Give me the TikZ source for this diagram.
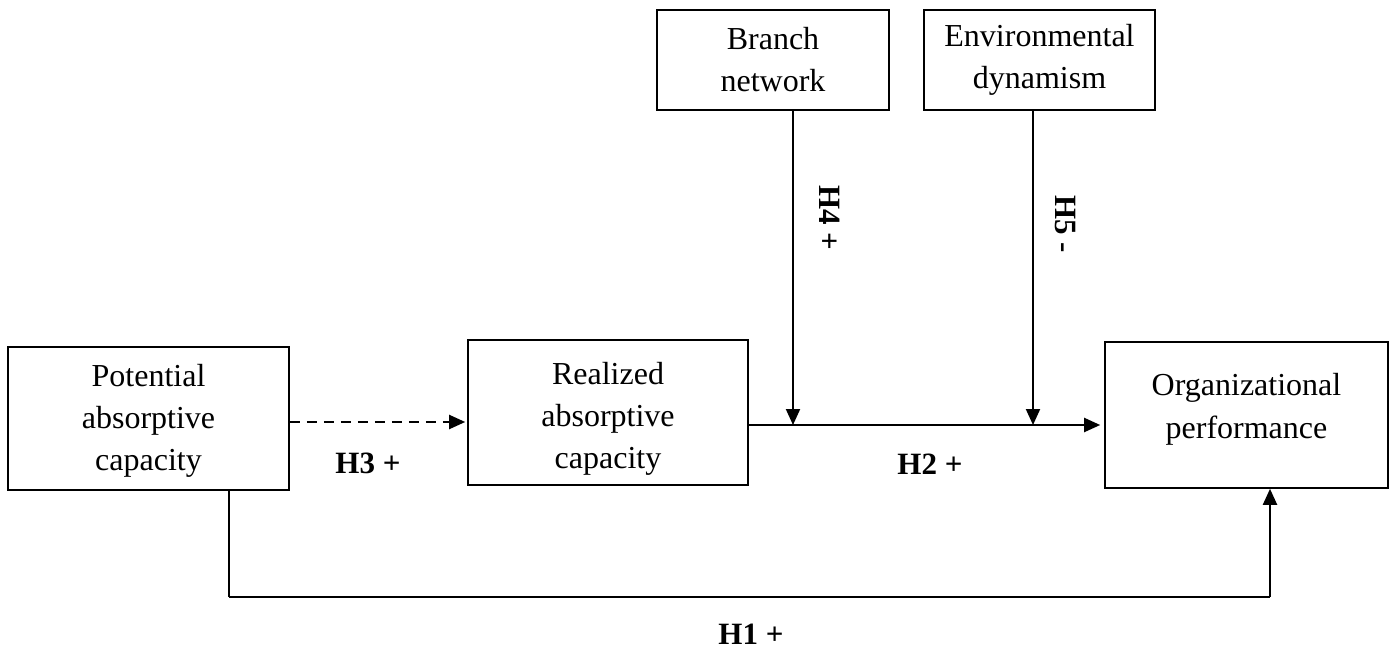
\documentclass[tikz,border=0pt]{standalone}
\usepackage{fontspec}
\setmainfont{Liberation Serif}
\usetikzlibrary{arrows.meta}
\begin{document}
\begin{tikzpicture}[x=1pt,y=-1pt,
  box/.style={draw,line width=1.6pt,inner sep=0pt},
  boxtext/.style={align=center,inner sep=0pt,font=\fontsize{32}{42}\selectfont},
  conn/.style={line width=2pt,-{Triangle[length=16pt,width=14pt]}},
  hlab/.style={font=\fontsize{31}{34}\selectfont\bfseries,inner sep=0pt}]
\useasboundingbox (0,0) rectangle (1395,655);
\node[box,minimum width=281pt,minimum height=143pt] (pot) at (148.5,418.5) {};
\node[boxtext] (pott) at ([yshift=-2pt]pot.center) {Potential\\absorptive\\capacity};
\node[box,minimum width=280pt,minimum height=145pt] (real) at (608,412.5) {};
\node[boxtext] (realt) at ([yshift=-6pt]real.center) {Realized\\absorptive\\capacity};
\node[box,minimum width=283pt,minimum height=146pt] (org) at (1246.5,415) {};
\node[boxtext,font=\fontsize{32}{43}\selectfont] (orgt) at ([yshift=6pt]org.center) {Organizational\\performance};
\node[box,minimum width=232pt,minimum height=100pt] (branch) at (773,60) {};
\node[boxtext] (brancht) at (branch.center) {Branch\\network};
\node[box,minimum width=231pt,minimum height=100pt] (env) at (1039.5,60) {};
\node[boxtext] (envt) at (env.center) {Environmental\\dynamism};
\coordinate (j4) at (793,425);
\coordinate (j5) at (1033,425);
\coordinate (h3y) at (0,422);
\coordinate (h1l) at (229,597);
\coordinate (h1r) at (1270,597);
% H2
\draw[conn,shorten >=4pt] (real.east |- j4) -- (org.west |- j4);
% H4, H5
\draw[conn] (branch.south -| j4) -- (j4);
\draw[conn] (env.south -| j5) -- (j5);
% H3
\draw[conn,dashed,dash pattern=on 10pt off 7pt] (pot.east |- h3y) -- ([xshift=-2pt]real.west |- h3y);
% H1
\draw[line width=1.1pt] (pot.south -| h1l) -- (h1l);
\draw[line width=1.6pt] (h1l) -- (h1r);
\draw[conn] (h1r) -- (org.south -| h1r);
% labels
\node[hlab] (l3) at (368,463) {H3 +};
\node[hlab] (l2) at (930,464) {H2 +};
\node[hlab] (l1) at (751,634) {H1 +};
\node[hlab,rotate=-90] (l4) at (830,218) {H4 +};
\node[hlab,rotate=-90] (l5) at (1065,224) {H5 -};
\end{tikzpicture}
\end{document}
